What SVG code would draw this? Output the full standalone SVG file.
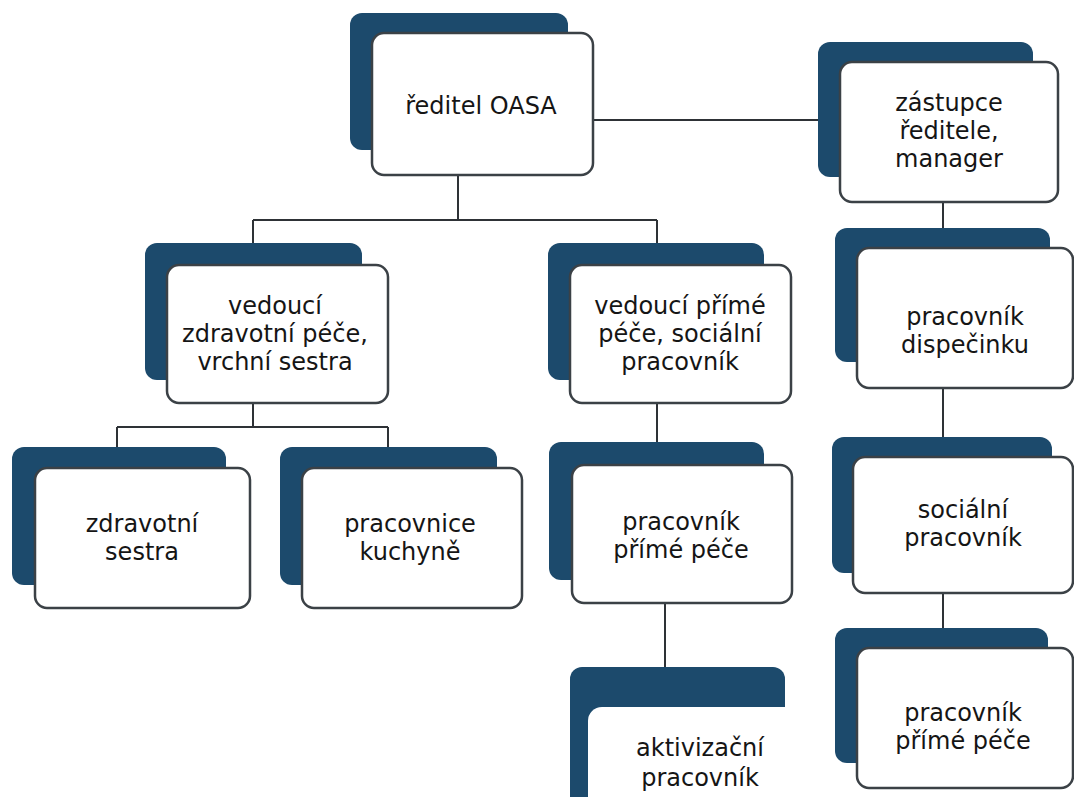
<svg xmlns="http://www.w3.org/2000/svg" width="1074" height="797" viewBox="0 0 1074 797">
<style>
.bg{fill:#ffffff}
.back{fill:#1c4a6c}
.front{fill:#ffffff;stroke:#3b4146;stroke-width:2.5}
.open{fill:#ffffff}
.lbl{font-family:"DejaVu Sans","Liberation Sans",sans-serif;font-size:24px;fill:#151515;text-anchor:middle}
.conn{fill:none;stroke:#2e3236;stroke-width:2}
</style>
<rect class="bg" x="0" y="0" width="1074" height="797"/>
<g id="connectors">
<path class="conn" d="M593,120 H840"/>
<path class="conn" d="M458,175 V220 M253,220 H657 M253,220 V243 M657,220 V243"/>
<path class="conn" d="M253,403 V427 M117,427 H388 M117,427 V447 M388,427 V447"/>
<path class="conn" d="M657,403 V442"/>
<path class="conn" d="M665,603 V667"/>
<path class="conn" d="M943,202 V228 M943,388 V437 M943,593 V628"/>
</g>
<g id="reditel">
<rect class="back" x="350" y="13" width="218" height="137" rx="12"/>
<rect class="front" x="372" y="33" width="221" height="142" rx="12"/>
<text class="lbl" x="481" y="114">ředitel OASA</text>
</g>
<g id="zastupce">
<rect class="back" x="818" y="42" width="215" height="135" rx="12"/>
<rect class="front" x="840" y="62" width="218" height="140" rx="12"/>
<text class="lbl" x="949" y="111">zástupce</text>
<text class="lbl" x="949" y="139">ředitele,</text>
<text class="lbl" x="949" y="167">manager</text>
</g>
<g id="vedouci-zdravotni">
<rect class="back" x="145" y="243" width="217" height="137" rx="12"/>
<rect class="front" x="167" y="265" width="221" height="138" rx="12"/>
<text class="lbl" x="275" y="314">vedoucí</text>
<text class="lbl" x="275" y="342">zdravotní péče,</text>
<text class="lbl" x="275" y="370">vrchní sestra</text>
</g>
<g id="vedouci-prime">
<rect class="back" x="548" y="243" width="216" height="137" rx="12"/>
<rect class="front" x="570" y="265" width="221" height="138" rx="12"/>
<text class="lbl" x="680" y="314">vedoucí přímé</text>
<text class="lbl" x="680" y="342">péče, sociální</text>
<text class="lbl" x="680" y="370">pracovník</text>
</g>
<g id="zdravotni-sestra">
<rect class="back" x="12" y="447" width="214" height="138" rx="12"/>
<rect class="front" x="35" y="468" width="215" height="140" rx="12"/>
<text class="lbl" x="142" y="532">zdravotní</text>
<text class="lbl" x="142" y="560">sestra</text>
</g>
<g id="pracovnice-kuchyne">
<rect class="back" x="280" y="447" width="217" height="138" rx="12"/>
<rect class="front" x="302" y="468" width="220" height="140" rx="12"/>
<text class="lbl" x="410" y="532">pracovnice</text>
<text class="lbl" x="410" y="560">kuchyně</text>
</g>
<g id="pracovnik-prime-pece-1">
<rect class="back" x="549" y="442" width="215" height="138" rx="12"/>
<rect class="front" x="572" y="465" width="220" height="138" rx="12"/>
<text class="lbl" x="681" y="530">pracovník</text>
<text class="lbl" x="681" y="558">přímé péče</text>
</g>
<g id="aktivizacni-pracovnik">
<rect class="back" x="570" y="667" width="215" height="200" rx="12"/>
<rect class="open" x="588" y="707" width="230" height="120" rx="14"/>
<text class="lbl" x="700" y="756">aktivizační</text>
<text class="lbl" x="700" y="786">pracovník</text>
</g>
<g id="pracovnik-dispecinku">
<rect class="back" x="835" y="228" width="215" height="134" rx="12"/>
<rect class="front" x="857" y="248" width="216" height="140" rx="12"/>
<text class="lbl" x="965" y="325">pracovník</text>
<text class="lbl" x="965" y="353">dispečinku</text>
</g>
<g id="socialni-pracovnik">
<rect class="back" x="832" y="437" width="220" height="136" rx="12"/>
<rect class="front" x="853" y="457" width="220" height="136" rx="12"/>
<text class="lbl" x="963" y="518">sociální</text>
<text class="lbl" x="963" y="546">pracovník</text>
</g>
<g id="pracovnik-prime-pece-2">
<rect class="back" x="835" y="628" width="213" height="135" rx="12"/>
<rect class="front" x="857" y="648" width="216" height="140" rx="12"/>
<text class="lbl" x="963" y="721">pracovník</text>
<text class="lbl" x="963" y="749">přímé péče</text>
</g>
</svg>
